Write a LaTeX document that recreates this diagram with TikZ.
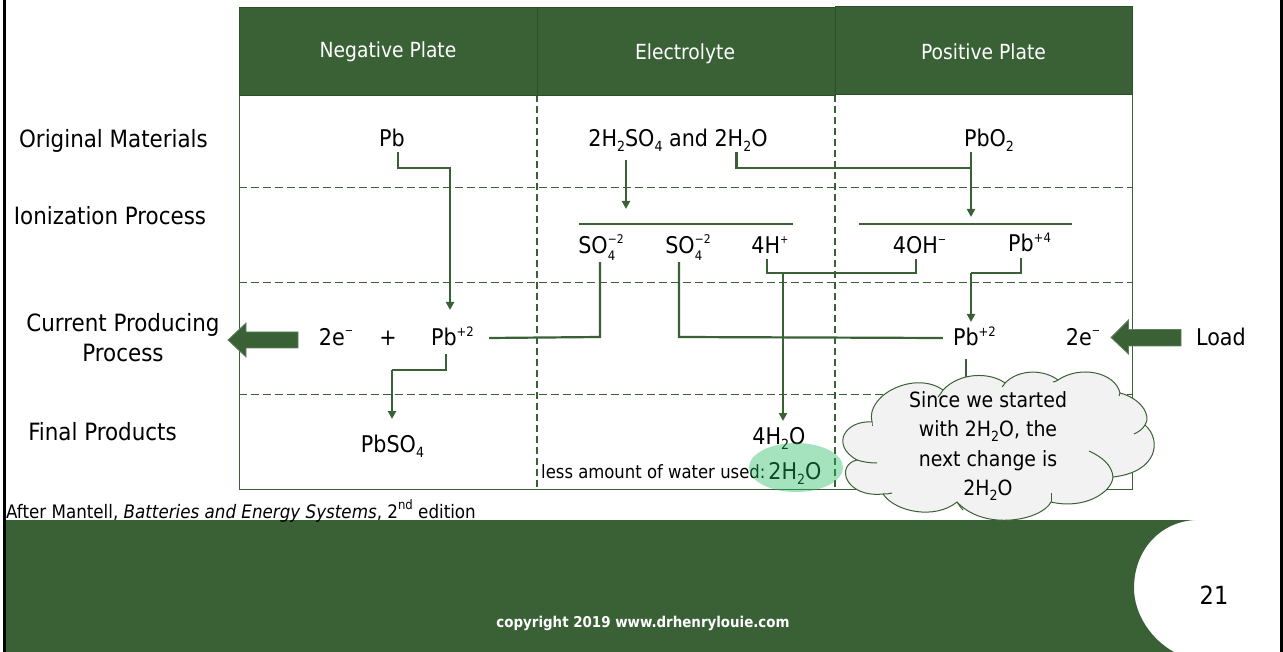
\documentclass[tikz,border=0pt]{standalone}
\usepackage{fontspec}
\setmainfont{DejaVu Sans Condensed}
\usetikzlibrary{arrows.meta}
\definecolor{plategreen}{RGB}{58, 97, 54}
\definecolor{ringgreen}{RGB}{30, 185, 92}
\definecolor{cloudgrey}{RGB}{242, 242, 242}
\newcommand{\chemsb}[1]{\raisebox{-5pt}{\fontsize{14}{14}\selectfont #1}}
\newcommand{\chemsp}[1]{\raisebox{9pt}{\fontsize{13}{13}\selectfont #1}}
\newcommand{\chemion}[1]{\raisebox{10pt}{\fontsize{11}{11}\selectfont #1}}
\newcommand{\sbsp}[2]{\makebox[0pt][l]{\raisebox{-7pt}{\fontsize{13}{13}\selectfont #1}}\raisebox{10pt}{\fontsize{12}{12}\selectfont #2}}
\newcommand{\bodysize}{\fontsize{23}{25}\selectfont}

\begin{document}
\begin{tikzpicture}[x=1pt, y=-1pt,
    lab/.style={inner sep=0pt, text height=19pt, text depth=5pt, font=\bodysize},
    rowlab/.style={inner sep=0pt, align=center, font=\fontsize{23.8}{30}\selectfont},
    headlab/.style={inner sep=0pt, text=white, font=\fontsize{20.8}{24}\selectfont},
    wire/.style={draw=plategreen, line width=2.2pt},
    wirearrow/.style={wire, -{Triangle[length=8pt,width=8pt]}},
    griddash/.style={draw=plategreen, line width=1pt, dash pattern=on 8pt off 4pt},
    platedash/.style={draw=plategreen, line width=2.4pt, dash pattern=on 7pt off 4pt},
    bigarrow/.style={fill=plategreen, draw=plategreen!80!white, line width=.8pt}]
    \useasboundingbox (0,0) rectangle (1283,652);

    % Slide frame and footer
    \draw[black, line width=3pt] (4.5,0) -- (4.5,652);
    \draw[black, line width=3pt] (1281.5,0) -- (1281.5,652);
    \fill[plategreen] (6,520) -- (1195,520) .. controls (1160,522) and (1134,550) .. (1134,588)
        .. controls (1134,615) and (1152,640) .. (1174,652) -- (6,652) -- cycle;
    \node[inner sep=0pt, text=white, font=\fontsize{14.9}{17}\bfseries\selectfont] (footer) at (643,623) {copyright 2019 www.drhenrylouie.com};
    \node[inner sep=0pt, font=\fontsize{25}{30}\selectfont] (pagenum) at (1214,595) {21};
    \node[inner sep=0pt, anchor=west, font=\fontsize{18.6}{22}\selectfont] (source) at (6,511) {After Mantell, \textit{Batteries and Energy Systems}, 2\chemsp{nd} edition};

    % Table body
    \draw[plategreen, line width=1pt] (239,95) -- (239,489) -- (1132,489) -- (1132,95);
    \draw[griddash] (239,188) -- (1132,188);
    \draw[griddash] (239,283) -- (1132,283);
    \draw[griddash] (239,394) -- (1132,394);
    \draw[platedash] (537,95) -- (537,489);
    \draw[platedash] (835,95) -- (835,489);

    % Header cells
    \draw[fill=plategreen, draw=plategreen!80!black] (239,7.5) rectangle (537,95);
    \draw[fill=plategreen, draw=plategreen!80!black] (537,7.5) rectangle (835,95);
    \draw[fill=plategreen, draw=plategreen!80!black] (835,6.5) rectangle (1132,94);
    \node[headlab] (negplate) at (388,52) {Negative Plate};
    \node[headlab] (electrolyte) at (685,54) {Electrolyte};
    \node[headlab] (posplate) at (983.5,52) {Positive Plate};

    % Row labels
    \node[rowlab] (original) at (113.5,141) {Original Materials};
    \node[rowlab] (ionization) at (110,216) {Ionization Process};
    \node[rowlab] (current) at (123,338) {Current Producing\\Process};
    \node[rowlab] (final) at (102.5,432) {Final Products};

    % Original materials
    \node[lab] (pb) at (392,140) {Pb};
    \node[lab] (acid) at (678,140) {2H\chemsb{2}SO\chemsb{4} and 2H\chemsb{2}O};
    \node[lab] (pbotwo) at (989,140) {PbO\chemsb{2}};

    % Ionization
    \node[lab] (sofourl) at (601,247) {SO\sbsp{4}{−2}};
    \node[lab] (sofourr) at (688,247) {SO\sbsp{4}{−2}};
    \node[lab] (hplus) at (770,247) {4H\chemion{+}};
    \node[lab] (ohminus) at (919.5,247) {4OH\chemion{−}};
    \node[lab] (pbfour) at (1029.5,245) {Pb\chemsp{+4}};
    \coordinate (acidbar) at (579,224);
    \coordinate (acidbarend) at (793,224);
    \coordinate (oxidebar) at (859,224);
    \coordinate (oxidebarend) at (1072,224);
    \draw[wire] (acidbar) -- (acidbarend);
    \draw[wire] (oxidebar) -- (oxidebarend);

    % Current producing
    \node[lab] (twoel) at (336,338) {2e\chemion{−}};
    \node[lab] (plus) at (388,338) {+};
    \node[lab] (pbtwol) at (452.5,338) {Pb\chemsp{+2}};
    \node[lab] (pbtwor) at (974.5,338) {Pb\chemsp{+2}};
    \node[lab] (twoer) at (1083,338) {2e\chemion{−}};
    \node[lab] (load) at (1221,338) {Load};
    \draw[bigarrow] (298,332) -- (246,332) -- (246,323) -- (228,340) -- (246,357) -- (246,348) -- (298,348) -- cycle;
    \draw[bigarrow] (1181,329.5) -- (1128.5,329.5) -- (1128.5,320) -- (1111,337.5) -- (1128.5,354) -- (1128.5,346) -- (1181,346) -- cycle;

    % Final products
    \node[lab] (pbso) at (392.5,445) {PbSO\chemsb{4}};
    \node[lab] (water) at (779,437) {4H\chemsb{2}O};
    \node[inner sep=0pt, anchor=west, font=\fontsize{18.3}{22}\selectfont] (less) at (541,472) {less amount of water used:};
    \node[lab] (waterused) at (795,472) {2H\chemsb{2}O};

    % Bends and arrow ends
    \coordinate (pbin) at (450,310);
    \coordinate (acidin) at (626,209);
    \coordinate (oxidein) at (971,217);
    \coordinate (waterin) at (783,421);
    \coordinate (pbtwoin) at (971,322);
    \coordinate (pbsoin) at (392,419);
    \coordinate (cloudtop) at (966,377);
    \coordinate (solbend) at (600,337);
    \coordinate (sorbend) at (679,337);

    % Connectors
    \draw[wirearrow] ([xshift=6pt]pb.south) |- (450,168) -- (pbin);
    \draw[wirearrow] ([yshift=-8pt,xshift=-52pt]acid.south) -- (acidin);
    \draw[wire] ([xshift=58.5pt]acid.south) |- (971,168);
    \draw[wirearrow] ([xshift=-18pt]pbotwo.south) -- (oxidein);
    \draw[wire] ([xshift=-1pt,yshift=-3pt]sofourl.south) -- (solbend) -- ([xshift=15pt]pbtwol.east);
    \draw[wire] ([xshift=-9pt,yshift=-3pt]sofourr.south) -- (sorbend) -- ([xshift=-10pt]pbtwor.west);
    \draw[wire] ([xshift=-3pt]hplus.south) |- (916,273) -- ([xshift=-3.5pt]ohminus.south);
    \draw[wirearrow] (783,273) -- (waterin);
    \draw[wire] ([xshift=-8.5pt,yshift=-1pt]pbfour.south) |- (971,273);
    \draw[wirearrow] (971,273) -- (pbtwoin);
    \draw[wire] ([xshift=-6.5pt,yshift=-4pt]pbtwol.south) |- (392,370);
    \draw[wirearrow] (392,370) -- (pbsoin);
    \draw[wire] ([xshift=-8.5pt,yshift=-9pt]pbtwor.south) -- (cloudtop);

    % Highlight on the water used
    \fill[ringgreen, opacity=.4] (796,467.5) ellipse (47 and 24.5);

    % Cloud
    \draw[fill=cloudgrey, draw=plategreen, line width=1pt]
        (943,390) .. controls (960,372) and (990,372) .. (1005,383)
        .. controls (1020,368) and (1045,370) .. (1058,380)
        .. controls (1080,365) and (1115,372) .. (1120,393)
        .. controls (1140,398) and (1152,415) .. (1145,425)
        .. controls (1162,440) and (1158,472) .. (1113,477)
        .. controls (1112,492) and (1085,510) .. (1051,502)
        .. controls (1042,520) and (985,532) .. (957,502)
        .. controls (935,520) and (895,512) .. (883,494)
        .. controls (845,498) and (835,465) .. (857,460)
        .. controls (830,445) and (845,420) .. (872,422)
        .. controls (865,395) and (915,370) .. (943,390) -- cycle;
    \draw[plategreen, line width=1pt] (943,390) .. controls (941,393) and (940,395) .. (938,397);
    \draw[plategreen, line width=1pt] (1005,383) .. controls (1004,385) and (1003,386) .. (1002,387);
    \draw[plategreen, line width=1pt] (1058,380) .. controls (1056,381) and (1055,382) .. (1053,382);
    \draw[plategreen, line width=1pt] (1120,393) .. controls (1120,394) and (1120,395) .. (1119,396);
    \draw[plategreen, line width=1pt] (1145,425) .. controls (1142,430) and (1138,432) .. (1134,434);
    \draw[plategreen, line width=1pt] (1113,477) .. controls (1112,465) and (1102,457) .. (1089,451);
    \draw[plategreen, line width=1pt] (1051,502) .. controls (1051,498) and (1051,495) .. (1051,493);
    \draw[plategreen, line width=1pt] (957,502) .. controls (959,505) and (961,508) .. (963,510);
    \draw[plategreen, line width=1pt] (883,494) .. controls (886,494) and (889,494) .. (892,493);
    \draw[plategreen, line width=1pt] (857,460) .. controls (863,462) and (870,463) .. (877,463);
    \draw[plategreen, line width=1pt] (872,422) .. controls (872,423) and (872,424) .. (872,426);
    \node[inner sep=0pt, align=center, font=\fontsize{21}{29.3}\selectfont] (cloudtext) at (988,446) {Since we started\\with 2H\chemsb{2}O, the\\next change is\\2H\chemsb{2}O};
\end{tikzpicture}
\end{document}
